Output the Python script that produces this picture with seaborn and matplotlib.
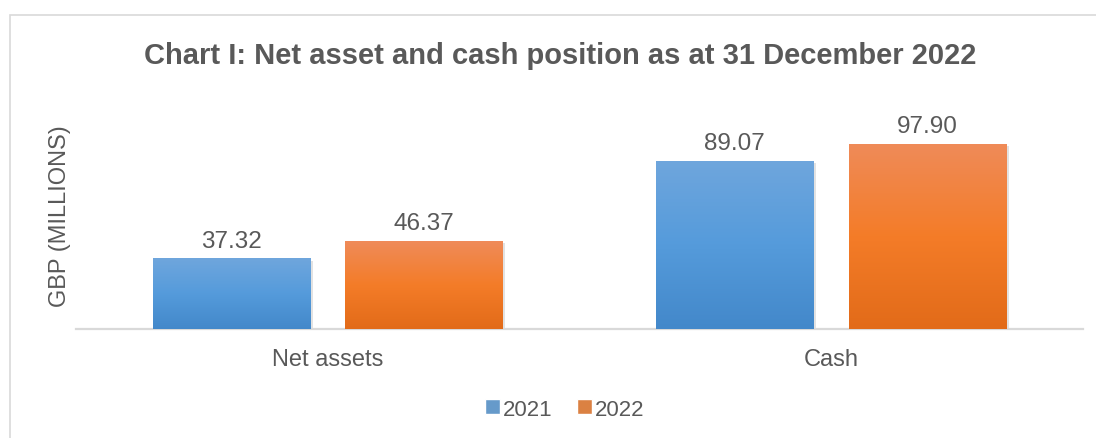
import matplotlib.pyplot as plt
import seaborn as sns
import pandas as pd
import numpy as np
from matplotlib.colors import LinearSegmentedColormap
from matplotlib.patches import Rectangle
import matplotlib.patheffects as pe

categories = ["Net assets", "Cash"]
years = ["2021", "2022"]
values_2021 = [37.32, 89.07]
values_2022 = [46.37, 97.90]

# top / middle / bottom shades of the gradient fill
blue_shades = ["#6FA6DD", "#559BDB", "#4388CA"]
orange_shades = ["#EF8B59", "#F47C28", "#E26B19"]
text_grey = "#595959"

df = pd.DataFrame({
    "category": categories * 2,
    "year": [years[0]] * 2 + [years[1]] * 2,
    "value": values_2021 + values_2022,
})

sns.set_theme(style="white")
plt.rcParams["font.family"] = ["Liberation Sans", "DejaVu Sans"]

fig = plt.figure(figsize=(10.96, 4.39), dpi=100)
ax = fig.add_axes([0.0693, 0.2483, 0.9187, 0.5167])

sns.barplot(data=df, x="category", y="value", hue="year",
            palette=[blue_shades[1], orange_shades[1]],
            width=0.765, gap=0.183, ax=ax, legend=True)

ax.set_ylim(0, 120)
ax.set_xlim(-0.5, 1.5)

# gradient fill clipped to each bar, with a soft shadow
grad = np.linspace(0, 1, 256).reshape(-1, 1)
for container, shades in zip(ax.containers, [blue_shades, orange_shades]):
    cmap = LinearSegmentedColormap.from_list("g", shades[::-1])
    for bar in container:
        x0, y0 = bar.get_x(), bar.get_y()
        w, h = bar.get_width(), bar.get_height()
        bar.set_facecolor("none")
        bar.set_edgecolor("none")
        bar.set_path_effects([pe.SimplePatchShadow(offset=(2, -1.5), shadow_rgbFace="#7f7f7f", alpha=0.22)])
        im = ax.imshow(grad, extent=(x0, x0 + w, y0, y0 + h), origin="lower",
                       cmap=cmap, aspect="auto", zorder=3)
        im.set_clip_path(bar)
    ax.bar_label(container, fmt="%.2f", padding=5, fontsize=17.5, color=text_grey)

for s in ["top", "right", "left"]:
    ax.spines[s].set_visible(False)
ax.spines["bottom"].set_color("#D9D9D9")
ax.spines["bottom"].set_linewidth(1.6)
ax.set_yticks([])
ax.tick_params(axis="x", length=0, pad=14, labelsize=17, labelcolor=text_grey)
ax.set_xlabel("")
ax.set_ylabel("GBP (MILLIONS)", fontsize=17, color=text_grey)
ax.yaxis.set_label_coords(-0.0045, 0.5)

fig.suptitle("Chart I: Net asset and cash position as at 31 December 2022",
             x=0.511, y=0.905, fontsize=21, fontweight="bold", color=text_grey)

handles, labels = ax.get_legend_handles_labels()
ax.get_legend().remove()
fig.legend(handles, labels, loc="center", bbox_to_anchor=(0.5155, 0.066), ncol=2,
           frameon=False, fontsize=16, handlelength=0.65, handleheight=0.65,
           handletextpad=0.15, columnspacing=1.1, labelcolor=text_grey)

# light grey chart frame
fig.patches.append(Rectangle((10 / 1096, -0.1), 1.2, 1.1 - 16 / 439, transform=fig.transFigure,
                             fill=False, edgecolor="#D9D9D9", linewidth=1.2))

fig.savefig("out.png", dpi=100)
